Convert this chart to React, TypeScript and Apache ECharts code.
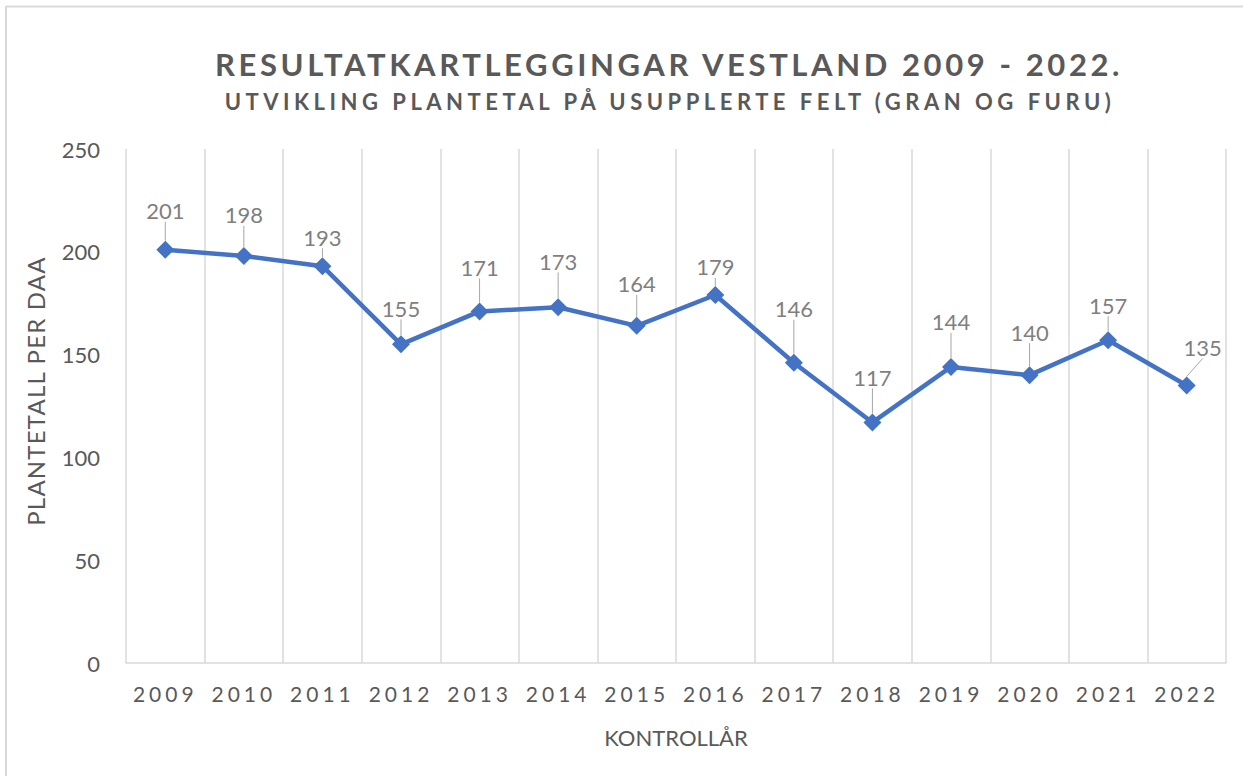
import React, { useEffect, useRef } from 'react';
import * as echarts from 'echarts';

const years = ['2009', '2010', '2011', '2012', '2013', '2014', '2015', '2016', '2017', '2018', '2019', '2020', '2021', '2022'];
const values = [201, 198, 193, 155, 171, 173, 164, 179, 146, 117, 144, 140, 157, 135];
const yMin = 0;
const yMax = 250;
const yStep = 50;
const titleText = 'RESULTATKARTLEGGINGAR VESTLAND 2009 - 2022.';
const subtitleText = 'UTVIKLING PLANTETAL PÅ USUPPLERTE FELT (GRAN OG FURU)';
const xName = 'KONTROLLÅR';
const yName = 'PLANTETALL PER DAA';

// label placement offsets (pixels), as in the reference
const labelDy = [-14, -16, -4, -11, -19, -21, -17, -3, -29, -20, -20, -18, -10, -13];
const labelDx = [0, 0, 0, 0, 0, 0, 0, 0, 0, 0, 0, 0, 0, 16];

const FONT = 'Lato, "Open Sans", sans-serif';

function applySpacing(root: HTMLElement | null) {
  if (!root) return;
  const texts = root.querySelectorAll('text');
  texts.forEach((t) => {
    const s = (t.textContent || '').trim();
    const st = (t as any).style;
    if (s === titleText) st.letterSpacing = '3.6px';
    else if (s === subtitleText) st.letterSpacing = '4.5px';
    else if (s === yName) st.letterSpacing = '1.2px';
    else if (/^\d{4}$/.test(s)) st.letterSpacing = '4px';
  });
}

export default function App() {
  const ref = useRef<HTMLDivElement>(null);
  useEffect(() => {
    if (!ref.current) return;
    const chart = echarts.init(ref.current, null, { renderer: 'svg' });
    const option: any = {
      animation: false,
      backgroundColor: '#ffffff',
      textStyle: { fontFamily: FONT },
      grid: { left: 126, right: 17, top: 149, bottom: 113 },
      graphic: [
        {
          type: 'line',
          shape: { x1: 6, y1: 6.5, x2: 1243, y2: 6.5 },
          style: { stroke: '#d9d9d9', lineWidth: 2 },
          silent: true,
        },
        {
          type: 'line',
          shape: { x1: 6, y1: 6, x2: 6, y2: 776 },
          style: { stroke: '#d9d9d9', lineWidth: 2 },
          silent: true,
        },
        {
          type: 'text',
          x: 669,
          y: 64,
          style: {
            text: titleText,
            align: 'center',
            verticalAlign: 'middle',
            fontFamily: FONT,
            fontWeight: 'bold',
            fontSize: 31,
            fill: '#595959',
          },
        },
        {
          type: 'text',
          x: 670,
          y: 101,
          style: {
            text: subtitleText,
            align: 'center',
            verticalAlign: 'middle',
            fontFamily: FONT,
            fontWeight: 'bold',
            fontSize: 22,
            fill: '#595959',
          },
        },
      ],
      xAxis: {
        type: 'category',
        data: years,
        boundaryGap: true,
        axisLine: { show: true, lineStyle: { color: '#d9d9d9', width: 1.5 } },
        axisTick: { show: false },
        splitLine: { show: true, lineStyle: { color: '#d9d9d9', width: 1.5 } },
        axisLabel: { color: '#595959', fontSize: 21, margin: 20, interval: 0, fontFamily: FONT },
        name: xName,
        nameLocation: 'middle',
        nameGap: 63,
        nameTextStyle: { color: '#595959', fontSize: 22, fontFamily: FONT },
      },
      yAxis: {
        type: 'value',
        min: yMin,
        max: yMax,
        interval: yStep,
        axisLine: { show: false },
        axisTick: { show: false },
        splitLine: { show: false },
        axisLabel: { color: '#595959', fontSize: 22, margin: 26, fontFamily: FONT },
        name: yName,
        nameLocation: 'middle',
        nameGap: 79,
        nameRotate: 90,
        nameTextStyle: { color: '#595959', fontSize: 24, fontFamily: FONT, padding: [0, 0, 0, 30] },
      },
      series: [
        {
          type: 'line',
          data: values,
          symbol: 'diamond',
          symbolSize: 18,
          lineStyle: { color: '#4472C4', width: 4.5 },
          itemStyle: { color: '#4472C4' },
          label: {
            show: true,
            position: 'top',
            distance: 5,
            color: '#7f7f7f',
            fontSize: 22,
            fontFamily: FONT,
          },
          labelLine: { show: true, lineStyle: { color: '#a6a6a6', width: 1 } },
          labelLayout: (p: any) => ({ dx: labelDx[p.dataIndex], dy: labelDy[p.dataIndex] }),
        },
      ],
    };
    chart.setOption(option);
    applySpacing(ref.current);
    chart.on('finished', () => applySpacing(ref.current));
    const t = setTimeout(() => applySpacing(ref.current), 50);
    return () => {
      clearTimeout(t);
      chart.dispose();
    };
  }, []);
  return (
    <div
      ref={ref}
      style={{ position: 'fixed', left: 0, top: 0, width: 1243, height: 776, background: '#fff' }}
    />
  );
}
